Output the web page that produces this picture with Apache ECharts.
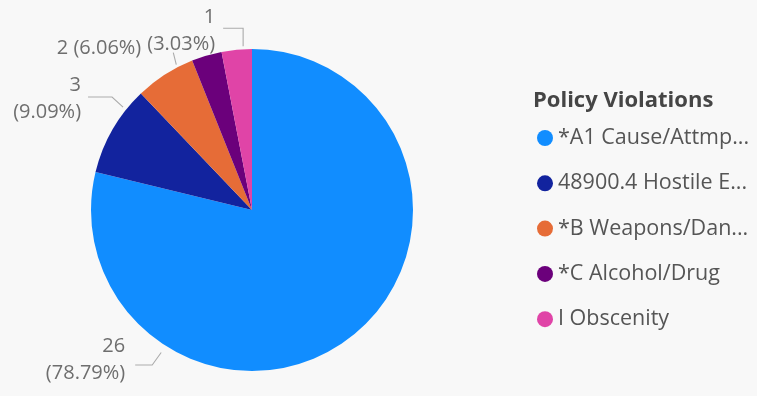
<!DOCTYPE html>
<html>
<head>
<meta charset="utf-8">
<script src="https://cdn.jsdelivr.net/npm/echarts@6/dist/echarts.min.js"></script>
<style>
  html, body { margin: 0; padding: 0; background: #f8f8f8; }
  #chart { width: 757px; height: 396px; }
</style>
</head>
<body>
<div id="chart"></div>
<script>
// Policy violation categories and their counts
const categories = ['*A1 Cause/Attmp...', '48900.4 Hostile E...', '*B Weapons/Dan...', '*C Alcohol/Drug', 'I Obscenity'];
const counts = [26, 3, 2, 1, 1];
const sliceColors = ['#118DFF', '#12239E', '#E66C37', '#6B007B', '#E044A7'];
const legendTitle = 'Policy Violations';

const FONT = '"Open Sans", "Noto Sans", sans-serif';
const CX = 252, CY = 210, RADIUS = 161;

// Leader-line routing per slice: where the line leaves the pie (angle clockwise
// from 12 o'clock), the bend, the horizontal run and the text offset from its end.
// A null entry means that slice's label is not drawn.
const leaders = [
  { angle: 212.5, gap: 8, bend: [-9, 12.5], run: -17, text: [-10, -5], inline: false },
  { angle: 308.6, gap: 4, bend: [-11, -10], run: -24, text: [-7, 2], inline: false },
  { angle: 332.5, gap: 3, bend: [-3, -12], run: 0, text: [-32, -4], inline: true },
  null,
  { angle: 356.9, gap: 3, bend: [0, -18], run: -20, text: [-8, 3], inline: false }
];

const pieData = categories.map((name, i) => {
  const L = leaders[i];
  return {
    name: name,
    value: counts[i],
    itemStyle: { color: sliceColors[i] },
    label: L ? { show: true, formatter: L.inline ? '{c} ({d}%)' : '{c}\n({d}%)' } : { show: false },
    labelLine: { show: !!L }
  };
});

const chart = echarts.init(document.getElementById('chart'), null, { renderer: 'canvas' });

chart.setOption({
  backgroundColor: '#f8f8f8',
  animation: false,
  title: {
    text: legendTitle,
    left: 533,
    top: 90,
    padding: 0,
    textStyle: { fontFamily: FONT, fontSize: 22, fontWeight: 'bold', color: '#454545' }
  },
  legend: {
    orient: 'vertical',
    left: 537,
    top: 127,
    padding: 0,
    icon: 'circle',
    itemWidth: 16,
    itemHeight: 16,
    itemGap: 23.3,
    selectedMode: false,
    data: categories,
    textStyle: { fontFamily: FONT, fontSize: 21.5, lineHeight: 20, color: '#555555' }
  },
  series: [{
    type: 'pie',
    center: [CX, CY],
    radius: [0, RADIUS],
    startAngle: 90,
    clockwise: true,
    avoidLabelOverlap: false,
    percentPrecision: 2,
    silent: true,
    data: pieData,
    label: {
      position: 'outside',
      fontFamily: FONT,
      fontSize: 20,
      lineHeight: 27,
      color: '#6e6e6e'
    },
    labelLine: {
      lineStyle: { color: '#ababab', width: 1.1 }
    },
    labelLayout: function (p) {
      const L = leaders[p.dataIndex];
      if (!L) return {};
      const t = L.angle * Math.PI / 180;
      const rr = RADIUS + L.gap;
      const x0 = CX + rr * Math.sin(t), y0 = CY - rr * Math.cos(t);
      const x1 = x0 + L.bend[0], y1 = y0 + L.bend[1];
      const x2 = x1 + L.run, y2 = y1;
      return {
        x: x2 + L.text[0],
        y: y2 + L.text[1],
        align: 'right',
        verticalAlign: 'middle',
        labelLinePoints: [[x0, y0], [x1, y1], [x2, y2]]
      };
    }
  }]
});
</script>
</body>
</html>
